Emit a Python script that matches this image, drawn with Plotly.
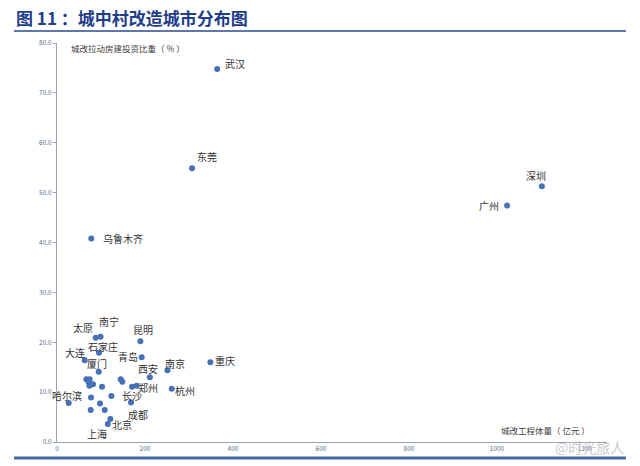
import plotly.graph_objects as go

# ---- data ----
cities = ["武汉", "东莞", "深圳", "广州", "乌鲁木齐", "太原", "南宁", "昆明", "石家庄", "青岛",
          "大连", "重庆", "南京", "厦门", "西安", "郑州", "杭州", "长沙", "成都", "哈尔滨",
          "北京", "上海"]
volume = [364, 307, 1102, 1023, 78, 88, 99, 189.5, 95.5, 192.5,
          63, 348.6, 251, 94.8, 211, 181, 260.7, 170.5, 168.2, 26.6,
          121.3, 115.5]
share = [74.8, 54.9, 51.3, 47.4, 40.8, 20.9, 21.1, 20.2, 17.9, 17.0,
         16.4, 16.0, 14.4, 14.1, 13.0, 11.3, 10.7, 11.1, 7.9, 7.8,
         4.6, 3.6]
# unlabeled cities
other_volume = [66.8, 74.3, 144.8, 148.6, 72, 81.8, 73.6, 102.3, 123.6, 77.3, 97.7, 76.6, 108.4]
other_share = [12.6, 12.6, 12.6, 12.1, 12.0, 11.6, 11.3, 11.1, 9.2, 8.9, 7.7, 6.4, 6.4]

x_ticks = [0, 200, 400, 600, 800, 1000, 1200]
y_ticks = [0, 10, 20, 30, 40, 50, 60, 70, 80]

# label offsets (pixels) : (xshift, yshift)
label_offsets = {
    "武汉": (18, 5), "东莞": (15, 12), "深圳": (-6, 11), "广州": (-18, 0),
    "乌鲁木齐": (32, 0), "太原": (-13, 10), "南宁": (8, 15), "昆明": (3, 12),
    "石家庄": (4, 6), "青岛": (-14, 1), "大连": (-10, 8), "重庆": (15, 2),
    "南京": (8, 7), "厦门": (-2, 8), "西安": (-2, 9), "郑州": (11, -2),
    "杭州": (13, -2), "长沙": (0, -9), "成都": (7, -12), "哈尔滨": (-2, 8),
    "北京": (12, -5), "上海": (-11, -9),
}

FONT = "Noto Sans CJK SC"
DOT = "#4670B8"

fig = go.Figure()
fig.add_trace(go.Scatter(
    x=volume + other_volume, y=share + other_share, mode="markers",
    marker=dict(size=6, color=DOT), hoverinfo="skip", showlegend=False))

annotations = []
for c, xv, yv in zip(cities, volume, share):
    dx, dy = label_offsets[c]
    annotations.append(dict(x=xv, y=yv, xref="x", yref="y", text=c, showarrow=False,
                            xshift=dx, yshift=dy, font=dict(family=FONT, size=10, color="#333333")))

# axis titles
annotations.append(dict(x=0.022, y=0.987, xref="paper", yref="paper", xanchor="left", yanchor="middle",
                        text="城改拉动房建投资比重（ % ）", showarrow=False,
                        font=dict(family=FONT, size=8.5, color="#404040")))
annotations.append(dict(x=0.973, y=0.03, xref="paper", yref="paper", xanchor="right", yanchor="middle",
                        text="城改工程体量（ 亿元 ）", showarrow=False,
                        font=dict(family=FONT, size=8.5, color="#404040")))
# title
annotations.append(dict(x=-0.0782, y=1.065, xref="paper", yref="paper", xanchor="left", yanchor="middle",
                        text="<b>图 11 ：城中村改造城市分布图</b>", showarrow=False,
                        font=dict(family=FONT, size=17, color="#1F3D8A")))
# watermark
annotations.append(dict(x=1.034, y=-0.012, xref="paper", yref="paper", xanchor="right", yanchor="middle",
                        text="@时光旅人", showarrow=False,
                        font=dict(family=FONT, size=14, color="rgba(190,190,190,0.85)")))

shapes = [
    dict(type="line", xref="paper", yref="paper", x0=-0.0782, x1=1.0345, y0=1.030, y1=1.030,
         line=dict(color="#2A4A8F", width=1.5)),
    dict(type="line", xref="paper", yref="paper", x0=-0.0782, x1=1.0345, y0=-0.040, y1=-0.040,
         line=dict(color="#4A6A9F", width=3)),
]

fig.update_layout(
    width=640, height=466,
    margin=dict(l=57, r=33, t=43, b=24),
    paper_bgcolor="white", plot_bgcolor="white",
    annotations=annotations, shapes=shapes,
    xaxis=dict(range=[0, 1250], tickvals=x_ticks, ticktext=[str(v) for v in x_ticks],
               showgrid=False, zeroline=False, showline=True, linecolor="#9aa3b0", linewidth=1,
               ticks="", tickfont=dict(family=FONT, size=6.5, color="#5a6a8a")),
    yaxis=dict(range=[0, 80], tickvals=y_ticks, ticktext=[f"{v:.1f}" for v in y_ticks],
               showgrid=False, zeroline=False, showline=True, linecolor="#9aa3b0", linewidth=1,
               ticks="outside", ticklen=3, tickcolor="#9aa3b0",
               tickfont=dict(family=FONT, size=6.5, color="#5a6a8a")),
)

fig.write_html("out.html")
